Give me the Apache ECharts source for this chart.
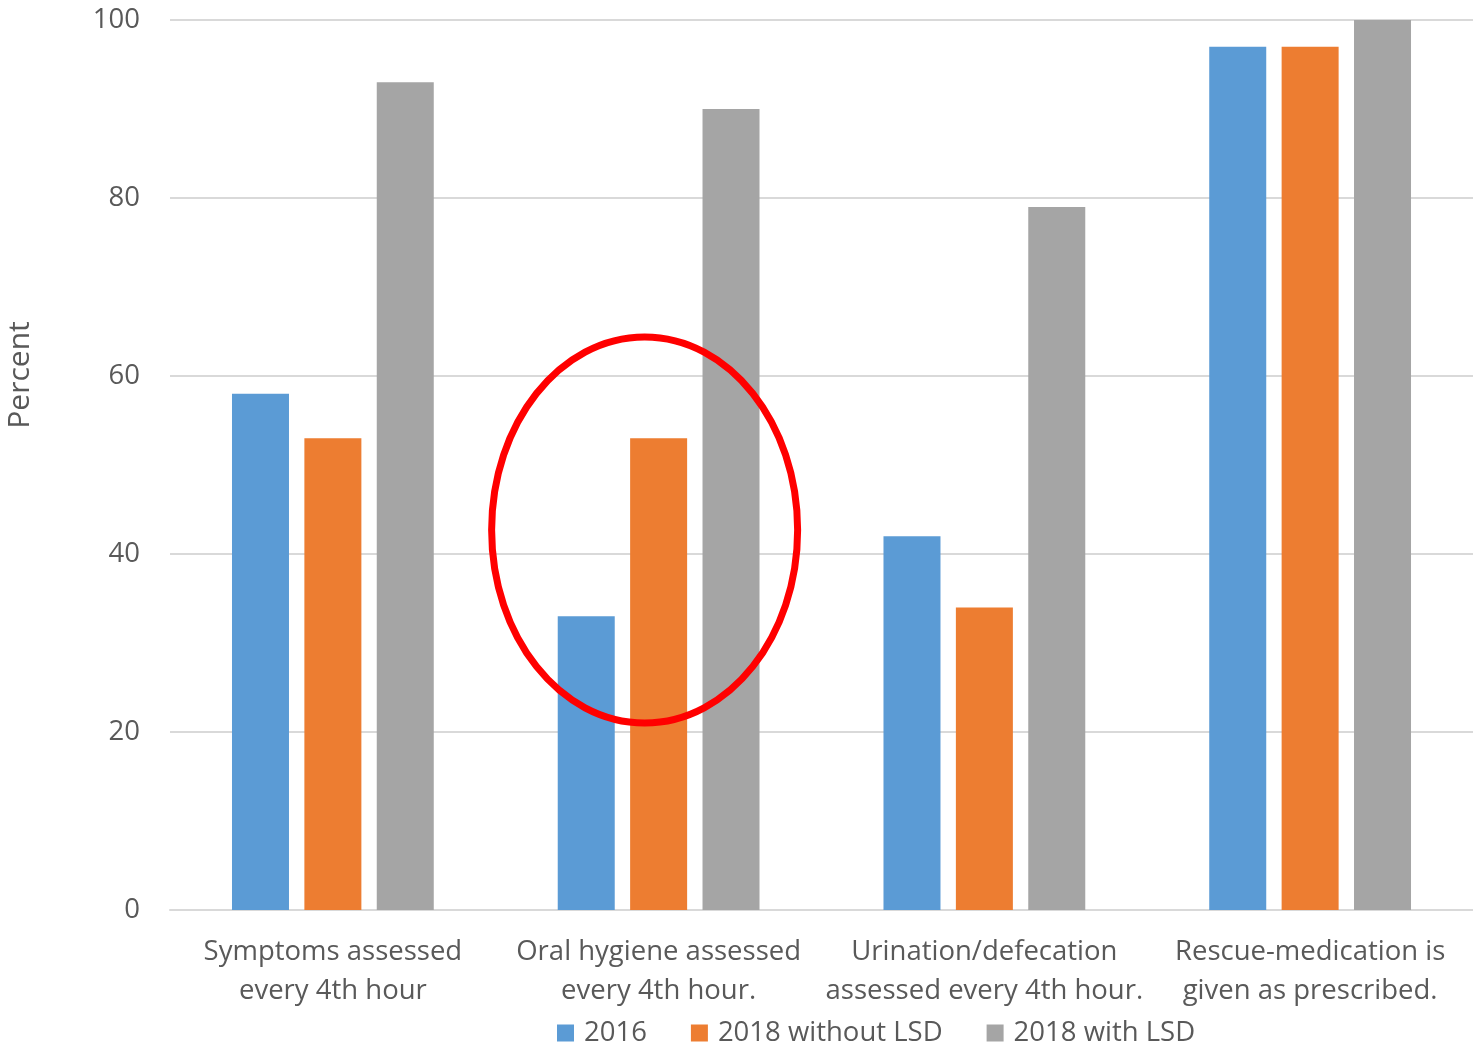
<!DOCTYPE html>
<html>
<head>
<meta charset="utf-8">
<script src="https://cdn.jsdelivr.net/npm/echarts@6/dist/echarts.min.js"></script>
<style>
  html, body { margin: 0; padding: 0; background: #ffffff; }
  #chart { width: 1473px; height: 1052px; }
</style>
</head>
<body>
<div id="chart"></div>
<script>
// Care-quality indicators, share of patients (%)
const categories = [
  'Symptoms assessed\nevery 4th hour',
  'Oral hygiene assessed\nevery 4th hour.',
  'Urination/defecation\nassessed every 4th hour.',
  'Rescue-medication is\ngiven as prescribed.'
];
const seriesNames = ['2016', '2018 without LSD', '2018 with LSD'];
const values2016 = [58, 33, 42, 97];
const values2018NoLSD = [53, 53, 34, 97];
const values2018LSD = [93, 90, 79, 100];
const yTicks = [0, 20, 40, 60, 80, 100];

const FONT = '"Open Sans", "Noto Sans", sans-serif';
const TEXT = '#595959';
const colors = ['#5b9bd5', '#ed7d31', '#a5a5a5'];
const FS = 27.5;

const chart = echarts.init(document.getElementById('chart'));

const seriesData = [values2016, values2018NoLSD, values2018LSD];

chart.setOption({
  animation: false,
  color: colors,
  textStyle: { fontFamily: FONT },
  grid: { left: 170, right: 0, top: 20, bottom: 142, containLabel: false },
  legend: {
    left: 552,
    bottom: 0,
    itemWidth: 17,
    itemHeight: 17,
    itemGap: 44,
    icon: 'rect',
    textStyle: { color: TEXT, fontSize: FS, fontFamily: FONT, padding: [0, 0, 0, 5] },
    data: seriesNames
  },
  xAxis: {
    type: 'category',
    data: categories,
    axisLine: { lineStyle: { color: '#d9d9d9', width: 2 } },
    axisTick: { show: false },
    axisLabel: {
      color: TEXT,
      fontSize: FS,
      lineHeight: 39,
      margin: 23,
      interval: 0,
      fontFamily: FONT
    }
  },
  yAxis: {
    type: 'value',
    min: yTicks[0],
    max: yTicks[yTicks.length - 1],
    interval: 20,
    axisLine: { show: false },
    axisTick: { show: false },
    splitLine: { lineStyle: { color: '#d9d9d9', width: 2 } },
    axisLabel: { color: TEXT, fontSize: FS, margin: 30, fontFamily: FONT }
  },
  series: seriesNames.map((name, i) => ({
    name: name,
    type: 'bar',
    data: seriesData[i],
    barWidth: 57,
    barGap: '27%',
    itemStyle: { color: colors[i] }
  }))
});

// Axis title and the highlight ring around the oral-hygiene group
function addOverlays() {
  const c = chart.convertToPixel({ gridIndex: 0 }, [categories[1], 42.7]);
  chart.setOption({
    graphic: [
      {
        type: 'text',
        x: 20,
        y: 375,
        rotation: Math.PI / 2,
        style: {
          text: 'Percent',
          fill: TEXT,
          font: '30px ' + FONT,
          textAlign: 'center',
          textVerticalAlign: 'middle'
        }
      },
      {
        type: 'ellipse',
        shape: { cx: c[0] - 14, cy: c[1], rx: 153, ry: 193 },
        style: { fill: 'none', stroke: '#ff0000', lineWidth: 7 },
        z: 100
      }
    ]
  });
}
addOverlays();
</script>
</body>
</html>
